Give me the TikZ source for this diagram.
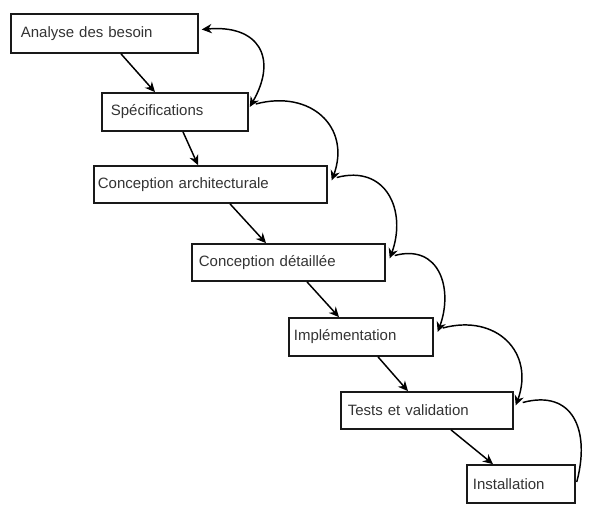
\documentclass[tikz,border=0pt]{standalone}
\usepackage{fontspec}
\setmainfont{Liberation Sans}
\usetikzlibrary{arrows.meta,calc}
\begin{document}
\begin{tikzpicture}[x=0.75pt,y=-0.75pt,
  stage/.style={draw=black!90, line width=1.3pt, anchor=west, align=left, inner ysep=0pt,
    font=\fontsize{11.25pt}{13pt}\selectfont, text=black!80},
  tip/.tip={Stealth[length=7.5pt,width=7pt]},
  flow/.style={-tip, line width=1.1pt},
  arcline/.style={line width=1.1pt, out=15, in=70, looseness=1.35}]
\useasboundingbox (0,0) rectangle (604,520);
\node[stage, text width=125.25pt, inner xsep=7.5pt, minimum height=29.25pt] (b1) at (10,33.5) {Analyse des besoin};
\node[stage, text width=96pt, inner xsep=6.75pt, minimum height=28.5pt] (b2) at (101,112) {Spécifications};
\node[stage, text width=168.75pt, inner xsep=3pt, minimum height=27.75pt] (b3) at (93,184.5) {Conception architecturale};
\node[stage, text width=134.25pt, inner xsep=5.25pt, minimum height=27.75pt] (b4) at (191,262.5) {Conception détaillée};
\node[stage, text width=100.5pt, inner xsep=3.75pt, minimum height=28.5pt] (b5) at (288,337) {Implémentation};
\node[stage, text width=118.5pt, inner xsep=5.25pt, minimum height=27.75pt] (b6) at (340,410.5) {Tests et validation};
\node[stage, text width=72pt, inner xsep=4.5pt, minimum height=28.5pt] (b7) at (466,484) {Installation};
% forward flow
\draw[flow] ($(b1.south west)+(111,0)$) -- ($(b2.north west)+(54,0)$);
\draw[flow] ($(b2.south west)+(82,0)$) -- ($(b3.north west)+(105,0)$);
\draw[flow] ($(b3.south west)+(137,0)$) -- ($(b4.north west)+(75,0)$);
\draw[flow] ($(b4.south west)+(116,0)$) -- ($(b5.north west)+(51,0)$);
\draw[flow] ($(b5.south west)+(90,0)$) -- ($(b6.north west)+(68,0)$);
\draw[flow] ($(b6.south west)+(111,0)$) -- ($(b7.north west)+(27,0)$);
% arcs on the right
\draw[arcline, tip-tip, out=5, in=60, looseness=1.6] ($(b1.east)+(3,-4)$) to ($(b2.east)+(1,-5)$);
\draw[arcline, -tip] ($(b2.east)+(7,-8)$) to ($(b3.east)+(4,-4)$);
\draw[arcline, -tip] ($(b3.east)+(9,-7)$) to ($(b4.east)+(4,-4)$);
\draw[arcline, -tip] ($(b4.east)+(9,-7)$) to ($(b5.east)+(4,-5)$);
\draw[arcline, -tip] ($(b5.east)+(9,-9)$) to ($(b6.east)+(2,-5)$);
\draw[arcline, in=75, looseness=1.4] ($(b6.east)+(9,-8)$) to ($(b7.east)+(1,-2)$);
\end{tikzpicture}
\end{document}
